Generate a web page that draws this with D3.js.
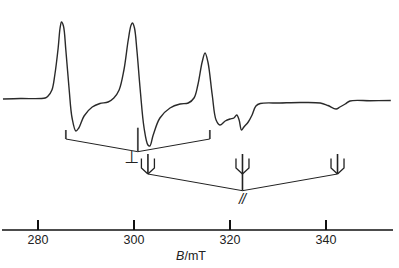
<!DOCTYPE html>
<html>
<head>
<meta charset="utf-8">
<script src="https://cdn.jsdelivr.net/npm/d3@7"></script>
<style>
  body { margin: 0; background: #fff; }
  text { font-family: "Liberation Sans", Arial, sans-serif; }
</style>
</head>
<body>
<script>
// EPR spectrum, field in mT, intensity in arbitrary units (derivative)
var fieldB = [272.7, 276.3, 281.5, 282.1, 282.9, 283.5, 284.2, 284.6, 284.9, 285.3,
              285.8, 286.5, 287.1, 287.9, 288.5, 289.6, 291.3, 292.9, 294.6, 295.8,
              296.9, 297.9, 298.8, 299.4, 299.7, 300.1, 300.6, 301.3, 302.1, 302.9,
              303.3, 304.0, 305.4, 307.5, 309.6, 311.3, 312.5, 313.3, 314.2, 314.8,
              315.4, 316.3, 317.1, 317.9, 319.0, 320.0, 320.8, 321.4, 321.9, 322.4,
              322.9, 323.8, 324.6, 325.4, 326.3, 330.4, 334.6, 338.8, 340.4, 342.1,
              342.9, 344.0, 345.0, 349.2, 353.5];
var signal = [1, 1.5, 2, 4, 10, 25, 52, 72, 78, 74,
              50, 10, -18, -31, -28, -16, -7, -3.5, -2, 2,
              10, 30, 60, 75, 77, 72, 50, 10, -28, -45,
              -46, -35, -18, -8, -4, -3, 2, 15, 38, 47,
              38, 5, -20, -25, -21, -19, -18, -15, -20, -30,
              -27, -22, -15, -6, -3.5, -3, -2.5, -3, -5.5, -9,
              -7, -4, -1, -0.7, -0.5];

// hyperfine stick diagrams (line positions, mT)
var perpLines = [285.8, 300.8, 315.8];
var parLines = [302.9, 322.6, 342.4];

// axis
var axisTicks = [280, 300, 320, 340];
var axisLabel = "B";
var axisUnit = "/mT";

var w = 399, h = 268;
var svg = d3.select("body").append("svg").attr("width", w).attr("height", h);

var x = d3.scaleLinear().domain([280, 340]).range([38, 326]);
var y = d3.scaleLinear().domain([-100, 100]).range([200, 0]);

var pts = fieldB.map(function(b, i) { return [b, signal[i]]; });

var line = d3.line()
    .x(function(d) { return x(d[0]); })
    .y(function(d) { return y(d[1]); })
    .curve(d3.curveCatmullRom.alpha(0.5));

svg.append("path")
    .datum(pts)
    .attr("d", line)
    .attr("fill", "none")
    .attr("stroke", "#2a2a2a")
    .attr("stroke-width", 1.4);

var ink = "#222";

// perpendicular pattern
var pTop = 130, pLow = 139, pVertex = 151.7, pCenterTop = 127.7;
var pMid = perpLines[1];
perpLines.forEach(function(b, i) {
    var top = i == 1 ? pCenterTop : pTop;
    var bot = i == 1 ? pVertex : pLow;
    svg.append("line")
        .attr("x1", x(b)).attr("x2", x(b))
        .attr("y1", top).attr("y2", bot)
        .attr("stroke", "#444").attr("stroke-width", 1.8);
    if (i != 1) {
        svg.append("line")
            .attr("x1", x(b)).attr("y1", pLow)
            .attr("x2", x(pMid)).attr("y2", pVertex)
            .attr("stroke", ink).attr("stroke-width", 1);
    }
});
svg.append("text")
    .attr("x", x(pMid) - 6).attr("y", 163)
    .attr("text-anchor", "middle")
    .style("font-family", "'DejaVu Sans'")
    .style("font-size", "17px")
    .attr("fill", ink)
    .text("\u22a5");

// parallel pattern: trident markers joined at a centre vertex
var qTop = 154, qProngTop = 158.5, qProngBot = 168, qBot = 174, qVertex = 190.7;
var qMid = parLines[1];
parLines.forEach(function(b, i) {
    var cx = x(b);
    var g = svg.append("g").attr("stroke", ink).attr("fill", "none");
    g.append("line").attr("x1", cx).attr("x2", cx)
        .attr("y1", qTop).attr("y2", i == 1 ? qVertex : qBot)
        .attr("stroke-width", 1.6);
    [-1, 1].forEach(function(s) {
        g.append("path")
            .attr("d", "M" + (cx + s * 6.5) + "," + qProngTop +
                       "L" + (cx + s * 6.5) + "," + qProngBot +
                       "L" + cx + "," + qBot)
            .attr("stroke-width", 1.3);
    });
    if (i != 1) {
        svg.append("line")
            .attr("x1", cx).attr("y1", qBot)
            .attr("x2", x(qMid)).attr("y2", qVertex)
            .attr("stroke", ink).attr("stroke-width", 1);
    }
});
svg.append("text")
    .attr("x", x(qMid) - 0.5).attr("y", 204)
    .attr("text-anchor", "middle")
    .style("font-size", "14.5px")
    .style("font-style", "italic")
    .style("letter-spacing", "-1px")
    .attr("fill", ink)
    .text("//");

// field axis
var axisY = 230;
svg.append("line")
    .attr("x1", 2).attr("x2", 393)
    .attr("y1", axisY).attr("y2", axisY)
    .attr("stroke", "#111").attr("stroke-width", 1.5);

svg.selectAll(".tk")
    .data(axisTicks)
    .enter()
    .append("line")
    .attr("x1", function(d) { return x(d); })
    .attr("x2", function(d) { return x(d); })
    .attr("y1", 220).attr("y2", axisY)
    .attr("stroke", "#111").attr("stroke-width", 2);

svg.selectAll(".tl")
    .data(axisTicks)
    .enter()
    .append("text")
    .attr("x", function(d) { return x(d); })
    .attr("y", 243.5)
    .attr("text-anchor", "middle")
    .attr("font-size", 12.5)
    .attr("fill", "#222")
    .text(function(d) { return d; });

var lab = svg.append("text")
    .attr("x", 191).attr("y", 260)
    .attr("text-anchor", "middle")
    .attr("font-size", 12.5)
    .attr("fill", "#222");
lab.append("tspan").attr("font-style", "italic").text(axisLabel);
lab.append("tspan").text(axisUnit);
</script>
</body>
</html>
